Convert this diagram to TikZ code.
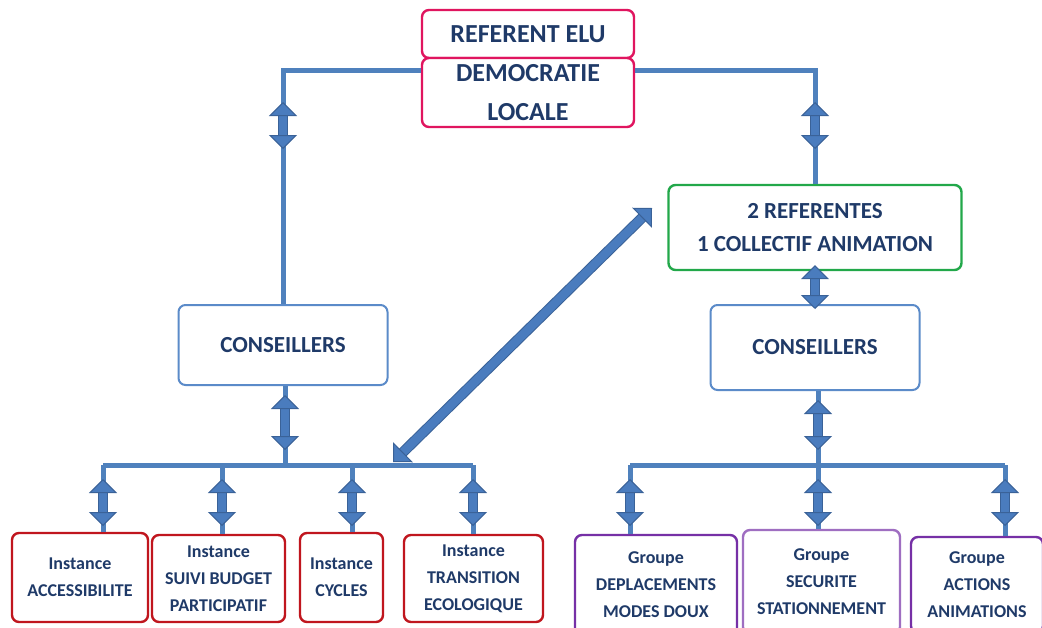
\documentclass[tikz,border=0pt]{standalone}
\usepackage{fontspec}
\setmainfont{Carlito}
\usepackage{xcolor}
\usepackage{tikz}
\usetikzlibrary{arrows.meta,positioning}
\definecolor{navy}{HTML}{1F3A68}
\definecolor{lineblue}{HTML}{4F81BD}
\definecolor{arrowblue}{HTML}{4A7CBE}
\definecolor{arrowdark}{HTML}{3A6298}
\definecolor{pinkred}{HTML}{E0155F}
\definecolor{boxgreen}{HTML}{22A84A}
\definecolor{boxblue}{HTML}{5B8BC9}
\definecolor{boxred}{HTML}{C0161E}
\definecolor{boxpurple}{HTML}{7630A6}

\tikzset{
   box/.style={draw, rounded corners=7pt, line width=2.4pt, fill=white, align=center, text=navy, inner sep=0pt},
   link/.style={draw=lineblue, line width=5pt},
   tipend/.tip={Triangle[width=28pt,length=14pt,line width=1pt,color=arrowdark,fill=arrowblue]},
   dbl/.style={draw=arrowblue, line width=8.5pt,
      preaction={draw=arrowdark, line width=10.5pt, arrows=-, shorten >=11pt, shorten <=11pt},
      {tipend}-{tipend}},
   big/.style={font=\fontsize{26}{39}\selectfont\bfseries},
   mid/.style={font=\fontsize{23}{33}\selectfont\bfseries},
   small/.style={font=\fontsize{18}{27}\selectfont\bfseries},
}

\begin{document}
\begin{tikzpicture}[x=1pt,y=-1pt]
   \useasboundingbox[fill=white] (0,0) rectangle (1042,627);

   % coords
   \coordinate (TL) at (283,70);
   \coordinate (TR) at (815,70);
   \coordinate (JL) at (285,465);
   \coordinate (JR) at (818,465);

   % top boxes
   \node[box, draw=pinkred, big, minimum width=212pt, minimum height=48pt] (ref) at (528,34) {REFERENT ELU};
   \node[box, draw=pinkred, big, minimum width=212pt, minimum height=69pt] (dem) at (528,92.5) {DEMOCRATIE\\LOCALE};

   % middle boxes
   \node[box, draw=boxgreen, mid, minimum width=293pt, minimum height=85pt] (grn) at (815,227.5) {2 REFERENTES\\1 COLLECTIF ANIMATION};
   \node[box, draw=boxblue, line width=2pt, mid, minimum width=209pt, minimum height=80pt] (consL) at (283,345) {CONSEILLERS};
   \node[box, draw=boxblue, line width=2pt, mid, minimum width=209pt, minimum height=85pt] (consR) at (815,347.5) {CONSEILLERS};

   % instances
   \node[box, draw=boxred, small, minimum width=136pt, minimum height=89pt] (inA) at (80,577.5) {Instance\\ACCESSIBILITE};
   \node[box, draw=boxred, small, minimum width=133pt, minimum height=87pt] (inB) at (218.5,578.5) {Instance\\SUIVI BUDGET\\PARTICIPATIF};
   \node[box, draw=boxred, small, minimum width=83pt, minimum height=89pt] (inC) at (341.5,577.5) {Instance\\CYCLES};
   \node[box, draw=boxred, small, minimum width=139pt, minimum height=87pt] (inD) at (473.5,578.5) {Instance\\TRANSITION\\ECOLOGIQUE};

   % groupes
   \node[box, draw=boxpurple, small, minimum width=162pt, minimum height=100pt] (grA) at (656,585) {Groupe\\DEPLACEMENTS\\MODES DOUX};
   \node[box, draw=boxpurple!70, small, minimum width=157pt, minimum height=104pt] (grB) at (821.5,582) {Groupe\\SECURITE\\STATIONNEMENT};
   \node[box, draw=boxpurple, small, minimum width=132pt, minimum height=96pt] (grC) at (977,585) {Groupe\\ACTIONS\\ANIMATIONS};

   % links from the top
   \draw[link] (dem.west |- TL) -- (TL) -- (TL |- consL.north);
   \draw[link] (dem.east |- TR) -- (TR) -- (TR |- grn.north);
   \draw[dbl] (283,102) -- (283,149);
   \draw[dbl] (815,102) -- (815,149);
   \draw[dbl] ([yshift=6pt]grn.south) -- ([yshift=-5pt]consR.north);

   % left tree
   \draw[link] (JL |- consL.south) -- (JL);
   \draw[dbl] (285,395) -- (285,450);
   \draw[link] (103,465) -- (473,465);
   \foreach \x/\n in {103/inA, 222/inB, 352/inC, 473/inD}{%
      \coordinate (d\n) at (\x,465);
      \draw[link] (d\n) -- (d\n |- \n.north);
      \draw[dbl] (\x,479) -- (\x,526);
   }

   % right tree
   \draw[link] (JR |- consR.south) -- (JR);
   \draw[dbl] (818,400) -- (818,450);
   \draw[link] (630,465) -- (1005,465);
   \foreach \x/\n in {630/grA, 818/grB, 1005/grC}{%
      \coordinate (d\n) at (\x,465);
      \draw[link] (d\n) -- (d\n |- \n.north);
      \draw[dbl] (\x,479) -- (\x,526);
   }

   % diagonal link
   \coordinate (DA) at (393,462);
   \coordinate (DB) at (652,208);
   \draw[dbl] (DA) -- (DB);
\end{tikzpicture}
\end{document}
